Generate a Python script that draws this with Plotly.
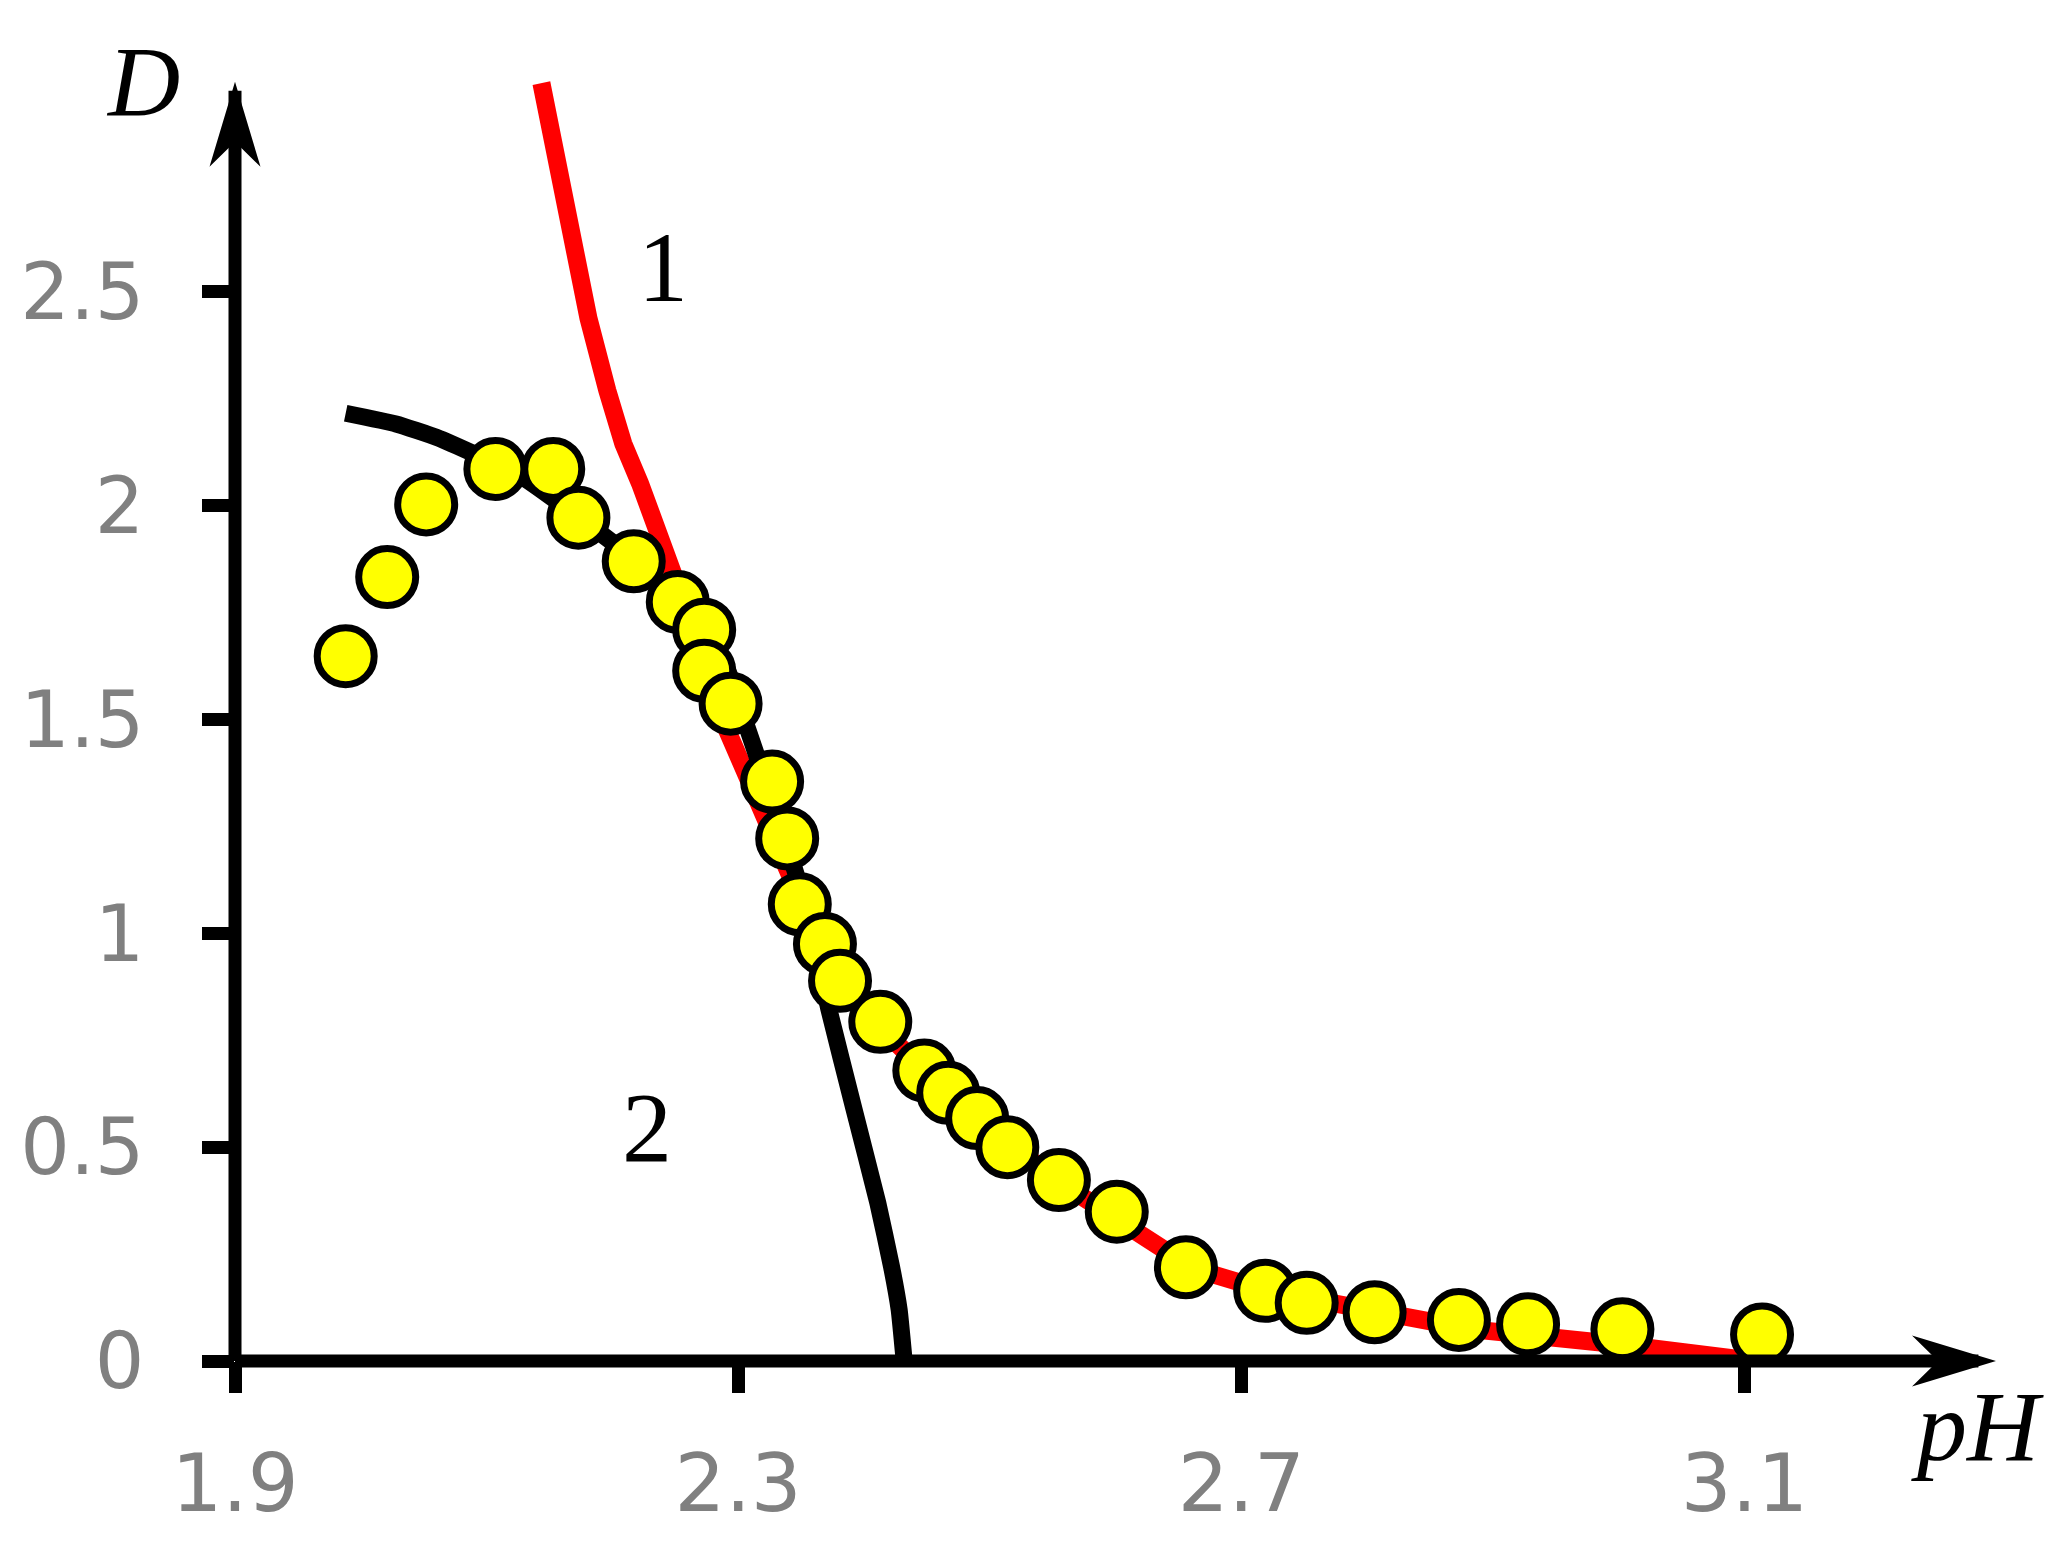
import plotly.graph_objects as go

# ---- data ----
pts_ph = [1.988, 2.021, 2.052, 2.107, 2.153, 2.173, 2.217, 2.252, 2.273, 2.273,
          2.294, 2.327, 2.339, 2.349, 2.369, 2.381, 2.413, 2.448, 2.467, 2.490,
          2.514, 2.555, 2.601, 2.656, 2.719, 2.752, 2.806, 2.873, 2.928, 3.003, 3.114]
pts_d = [1.648, 1.833, 2.003, 2.086, 2.086, 1.972, 1.870, 1.775, 1.710, 1.614,
         1.537, 1.355, 1.222, 1.068, 0.975, 0.889, 0.793, 0.679, 0.627, 0.568,
         0.500, 0.423, 0.349, 0.219, 0.164, 0.136, 0.114, 0.096, 0.086, 0.074, 0.062]

curve1_ph = [2.1436, 2.155, 2.1667, 2.181, 2.196, 2.2087, 2.222, 2.236, 2.2507, 2.270,
             2.288, 2.306, 2.327, 2.354, 2.385, 2.414, 2.448, 2.490, 2.553, 2.603,
             2.662, 2.721, 2.785, 2.884, 3.007, 3.100]
curve1_d = [2.988, 2.809, 2.623, 2.438, 2.269, 2.145, 2.052, 1.944, 1.836, 1.667,
            1.497, 1.373, 1.235, 1.049, 0.880, 0.778, 0.679, 0.568, 0.423, 0.324,
            0.216, 0.164, 0.130, 0.074, 0.037, 0.003]

curve2_ph = [1.988, 2.028, 2.060, 2.091, 2.128, 2.165, 2.207, 2.243, 2.270, 2.291,
             2.305, 2.320, 2.335, 2.350, 2.362, 2.372, 2.392, 2.411, 2.422, 2.428, 2.432]
curve2_d = [2.216, 2.191, 2.160, 2.120, 2.068, 1.991, 1.898, 1.799, 1.713, 1.620,
            1.500, 1.370, 1.240, 1.100, 0.960, 0.824, 0.590, 0.370, 0.220, 0.120, 0.0]

x_ticks = [1.9, 2.3, 2.7, 3.1]
x_tick_text = ["1.9", "2.3", "2.7", "3.1"]
y_ticks = [0, 0.5, 1, 1.5, 2, 2.5]
y_tick_text = ["0", "0.5", "1", "1.5", "2", "2.5"]

X_RANGE = [1.9, 3.3]
Y_RANGE = [0, 3.0]

GRAY = "#808080"
TICK_FONT = "DejaVu Sans"
SERIF = "Liberation Serif"

fig = go.Figure()

fig.add_trace(go.Scatter(x=curve1_ph, y=curve1_d, mode="lines",
                         line=dict(color="#FF0000", width=18),
                         cliponaxis=False, showlegend=False, hoverinfo="skip"))
fig.add_trace(go.Scatter(x=curve2_ph, y=curve2_d, mode="lines",
                         line=dict(color="#000000", width=17, shape="spline", smoothing=0.4),
                         cliponaxis=False, showlegend=False, hoverinfo="skip"))
fig.add_trace(go.Scatter(x=pts_ph, y=pts_d, mode="markers",
                         marker=dict(size=57, color="#FFFF00",
                                     line=dict(color="#000000", width=7)),
                         cliponaxis=False, showlegend=False, hoverinfo="skip"))

axis_common = dict(showgrid=False, zeroline=False, showline=False)

fig.update_layout(
    width=2052, height=1550,
    margin=dict(l=227, r=64, t=70, b=197),
    paper_bgcolor="white", plot_bgcolor="rgba(0,0,0,0)",
    xaxis=dict(range=X_RANGE, tickvals=x_ticks, ticktext=x_tick_text,
               ticks="outside", ticklen=31, tickwidth=13, tickcolor="black",
               ticklabelstandoff=22,
               tickfont=dict(family=TICK_FONT, size=80, color=GRAY), **axis_common),
    yaxis=dict(range=Y_RANGE, tickvals=y_ticks, ticktext=y_tick_text,
               ticks="outside", ticklen=32, tickwidth=13, tickcolor="black",
               ticklabelstandoff=42,
               tickfont=dict(family=TICK_FONT, size=78, color=GRAY), **axis_common),
    xaxis2=dict(range=X_RANGE, overlaying="x", anchor="y2", side="bottom",
                tickvals=x_ticks, ticks="inside", ticklen=31, tickwidth=13,
                tickcolor="black", showticklabels=False, **axis_common),
    yaxis2=dict(range=Y_RANGE, overlaying="y", anchor="x2", side="left",
                tickvals=y_ticks, ticks="inside", ticklen=32, tickwidth=13,
                tickcolor="black", showticklabels=False, **axis_common),
)

# axis lines (paper coords: plot-area edges = axis range ends)
fig.add_shape(type="line", xref="paper", yref="paper", x0=0, y0=0, x1=0.99, y1=0,
              line=dict(color="black", width=13), layer="above")
fig.add_shape(type="line", xref="paper", yref="paper", x0=0, y0=0, x1=0, y1=0.99,
              line=dict(color="black", width=13), layer="above")
# arrow heads (pixel-sized, anchored at axis ends)
fig.add_shape(type="path", xref="paper", yref="paper", xsizemode="pixel", ysizemode="pixel",
              xanchor=1, yanchor=0,
              path="M 0 0 L -84 25.5 L -58 0 L -84 -25.5 Z",
              fillcolor="black", line=dict(width=0), layer="above")
fig.add_shape(type="path", xref="paper", yref="paper", xsizemode="pixel", ysizemode="pixel",
              xanchor=0, yanchor=0.997,
              path="M 0 0 L -25.5 -85 L 0 -60 L 25.5 -85 Z",
              fillcolor="black", line=dict(width=0), layer="above")

# labels
fig.add_annotation(x=-0.052, y=0.997, xref="paper", yref="paper", text="<i>D</i>",
                   showarrow=False, xanchor="center", yanchor="middle",
                   font=dict(family=SERIF, size=100, color="black"))
fig.add_annotation(x=0.9897, y=-0.051, xref="paper", yref="paper", text="<i>pH</i>",
                   showarrow=False, xanchor="center", yanchor="middle",
                   font=dict(family=SERIF, size=100, color="black"))
fig.add_annotation(x=2.240, y=2.557, xref="x", yref="y", text="1", showarrow=False,
                   font=dict(family=SERIF, size=100, color="black"))
fig.add_annotation(x=2.2275, y=0.546, xref="x", yref="y", text="2", showarrow=False,
                   font=dict(family=SERIF, size=100, color="black"))

fig.write_html("out.html")
